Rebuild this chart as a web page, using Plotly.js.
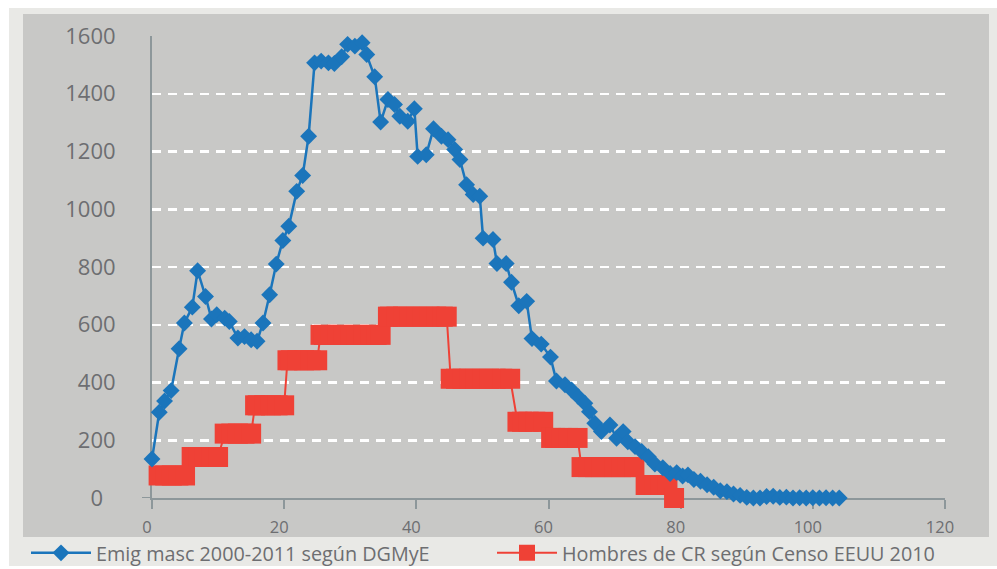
<!DOCTYPE html>
<html>
<head>
<meta charset="utf-8">
<script src="https://cdn.plot.ly/plotly-3.0.1.min.js"></script>
<style>
  html, body { margin: 0; padding: 0; background: #ffffff; width: 997px; height: 569px; overflow: hidden; }
  #chart { position: absolute; left: 0; top: 0; width: 997px; height: 569px; overflow: hidden; }
</style>
</head>
<body>
<div id="chart"></div>
<script>
// ---- Data ----
var blueName = 'Emig masc 2000-2011 según DGMyE';
var redName = 'Hombres de CR según Censo EEUU 2010';

var blueX = [0, 1.1, 1.9, 2.9, 4.1, 4.9, 6.1, 6.9, 8.1, 9.0, 9.8, 11.0, 11.7, 13.0, 14.0,
  15.0, 15.9, 16.8, 17.8, 18.8, 19.8, 20.7, 21.9, 22.8, 23.7,
  24.6, 25.6, 26.7, 27.6, 28.7, 29.6, 30.7, 31.8, 32.5, 33.7,
  34.6, 35.7, 36.7, 37.5, 38.7, 39.7, 40.2, 41.5, 42.6, 43.8,
  44.8, 45.8, 46.6, 47.6, 48.6, 49.6, 50.1, 51.6, 52.2, 53.6,
  54.4, 55.5, 56.7, 57.5, 58.9, 60.3, 61.2, 62.5, 63.5, 64.5,
  65.5, 66.2, 67.0, 68.0, 69.3, 70.3, 71.3, 72.0, 73.1, 74.1,
  75.1, 76.1, 77.3, 78.4, 79.4, 80.3, 81.1, 82, 83, 84,
  85, 86, 87, 88, 89, 90, 91, 92, 93, 94, 95, 96, 97, 98, 99, 100, 101, 102, 103, 104];
var blueY = [135, 297, 336, 372, 517, 606, 661, 787, 698, 620, 635, 623, 611, 554, 559,
  548, 543, 606, 704, 810, 892, 941, 1062, 1117, 1253,
  1507, 1513, 1507, 1505, 1528, 1571, 1565, 1577, 1536, 1459,
  1302, 1380, 1363, 1322, 1305, 1348, 1183, 1189, 1279, 1253,
  1241, 1207, 1172, 1085, 1051, 1045, 900, 895, 812, 812,
  747, 666, 681, 552, 533, 488, 405, 392, 374, 351,
  328, 299, 259, 230, 253, 207, 230, 195, 178, 161,
  143, 118, 105, 85, 88, 76, 80, 64, 58, 46,
  37, 25, 22, 14, 9, 2, 0, 0, 5, 6, 2, 3, 0, 1, 0, 1, 0, 1, 0, 0];

var redX = [1, 2, 3, 4, 5,
  6, 7, 8, 9, 10,
  11, 12, 13, 14, 15,
  15.6, 16, 17, 18, 19, 20,
  20.5, 21, 22, 23, 24, 25,
  25.5, 26, 27, 28, 29, 30, 31, 32, 33, 34, 34.6,
  35.7, 36, 37, 38, 39, 40, 41, 42, 43, 44, 44.6,
  45.2, 46, 47, 48, 49, 50, 51, 52, 53, 54.2,
  55.3, 56, 57, 58, 59.2,
  60.4, 61, 62, 63, 64.4,
  65, 66, 67, 68, 69, 70, 71, 72, 73,
  74.7, 75, 76, 77, 78,
  79];
var redY = [78, 78, 78, 78, 78,
  142, 142, 142, 142, 142,
  223, 223, 223, 223, 223,
  321, 321, 321, 321, 321, 321,
  477, 477, 477, 477, 477, 477,
  565, 565, 565, 565, 565, 565, 565, 565, 565, 565, 565,
  628, 628, 628, 628, 628, 628, 628, 628, 628, 628, 628,
  413, 413, 413, 413, 413, 413, 413, 413, 413, 413,
  264, 264, 264, 264, 264,
  208, 208, 208, 208, 208,
  107, 107, 107, 107, 107, 107, 107, 107, 107,
  45, 45, 45, 45, 45,
  0];

var xTicks = [0, 20, 40, 60, 80, 100, 120];
var yTicks = [0, 200, 400, 600, 800, 1000, 1200, 1400, 1600];
var yTickLabels = ['0', '200', '400', '600', '800', '1000', '1200', '1400', '1600'];

// ---- Styling ----
var W = 997, H = 569;
var M = { l: 152, r: 52, t: 36, b: 71, autoexpand: false };
var pw = W - M.l - M.r, ph = H - M.t - M.b;
function px2x(px) { return (px - M.l) / pw; }
function px2y(py) { return (H - M.b - py) / ph; }

var textColor = '#6d6e71';
var axisColor = '#8d979a';
var blue = '#1b75bb';
var red = '#ef4136';
var font = 'Open Sans, Noto Sans, sans-serif';

var red_trace = {
  type: 'scatter', mode: 'lines+markers', name: redName,
  x: redX, y: redY, cliponaxis: false, legendrank: 2,
  line: { color: red, width: 2 },
  marker: { symbol: 'square', size: 20, color: red }
};
var blue_trace = {
  type: 'scatter', mode: 'lines+markers', name: blueName,
  x: blueX, y: blueY, cliponaxis: false, legendrank: 1,
  line: { color: blue, width: 2.5 },
  marker: { symbol: 'diamond', size: 13, color: blue }
};

// padding so the lone "0" label sits centred like the others
var yText = yTickLabels.map(function (s) { return s.length === 1 ? s + '\u2007' : s; });

var layout = {
  width: W, height: H,
  margin: M,
  paper_bgcolor: '#ffffff',
  plot_bgcolor: 'rgba(0,0,0,0)',
  font: { family: font, color: textColor },
  showlegend: true,
  legend: {
    orientation: 'h', x: px2x(26), y: px2y(553), xanchor: 'left', yanchor: 'middle',
    font: { size: 19.8, color: textColor, family: font },
    bgcolor: 'rgba(0,0,0,0)', itemwidth: 60, traceorder: 'normal',
    entrywidth: 391, entrywidthmode: 'pixels'
  },
  xaxis: {
    range: [0, 120], tickvals: xTicks, ticktext: xTicks.map(String),
    showgrid: false, zeroline: false, automargin: false,
    showline: true, linecolor: axisColor, linewidth: 2,
    ticks: 'outside', ticklen: 9, tickwidth: 2, tickcolor: axisColor,
    tickfont: { size: 16.5, color: textColor, family: font },
    ticklabelshift: -5, ticklabelstandoff: 4,
    layer: 'below traces', fixedrange: true
  },
  yaxis: {
    range: [0, 1600], tickvals: yTicks, ticktext: yText,
    showgrid: true, gridcolor: '#ffffff', gridwidth: 2.5, griddash: '9px,7px',
    zeroline: false, automargin: false,
    showline: true, linecolor: axisColor, linewidth: 2,
    ticks: '', tickfont: { size: 22, color: textColor, family: font },
    ticklabelstandoff: 30,
    layer: 'below traces', fixedrange: true
  },
  shapes: [
    { type: 'rect', xref: 'paper', yref: 'paper', layer: 'below',
      x0: px2x(9), x1: px2x(997), y0: px2y(566), y1: px2y(8),
      fillcolor: '#e9e9e6', line: { width: 0 } },
    { type: 'rect', xref: 'paper', yref: 'paper', layer: 'below',
      x0: px2x(23), x1: px2x(989), y0: px2y(537), y1: px2y(14),
      fillcolor: '#c8c8c6', line: { width: 0 } },
    { type: 'line', xref: 'paper', yref: 'y', layer: 'below',
      x0: px2x(142), x1: 0, y0: 0, y1: 0,
      line: { color: axisColor, width: 2 } }
  ]
};

Plotly.newPlot('chart', [red_trace, blue_trace], layout, { displayModeBar: false, staticPlot: true });
</script>
</body>
</html>
